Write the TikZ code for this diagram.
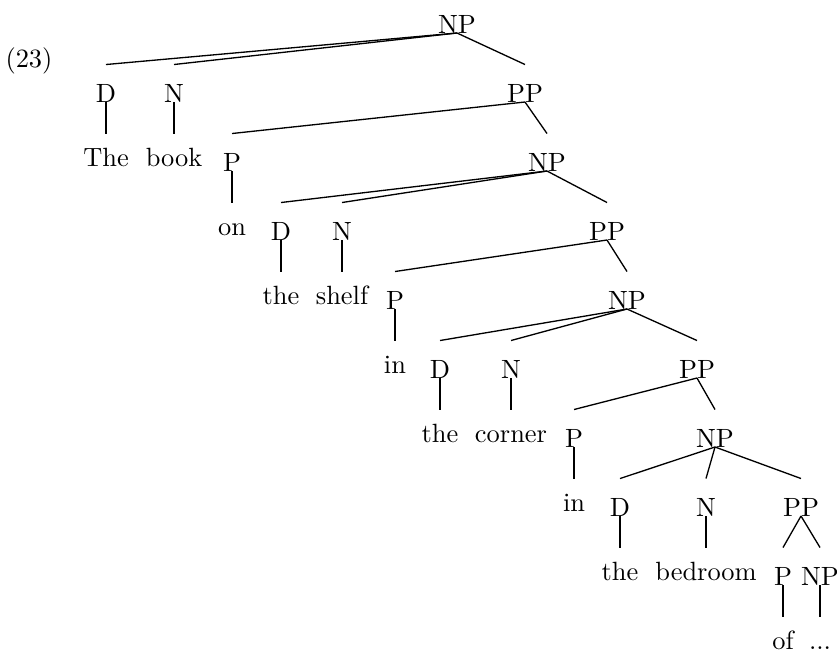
\documentclass[tikz,border=0pt]{standalone}
\usepackage{amsfonts}
\usepackage{amssymb}
\usepackage{tikz}

\tikzset{
  cat/.style={anchor=base, inner xsep=0pt, inner ysep=7pt, text height=7pt, text depth=0pt},
  word/.style={anchor=base, inner xsep=0pt, inner ysep=5.1pt, text height=7pt, text depth=0pt},
  branch/.style={line width=0.5pt},
  stem/.style={line width=1.1pt},
}

\begin{document}
\begin{tikzpicture}[x=0.3788pt, y=-0.3788pt]
        \useasboundingbox (0,0) rectangle (837,651);

        \node[anchor=base] (exnum) at (29,67) {(23)};

        \node[cat] (np0) at (457,33) {NP};

        \node[cat] (d1) at (106,102) {D};
        \node[cat] (n1) at (174,102) {N};
        \node[cat] (pp1) at (525,102) {PP};
        \node[word] (the1) at (106,166) {The};
        \node[word] (book) at (174,166) {book};

        \node[cat] (p2) at (232,171) {P};
        \node[cat] (np2) at (547,171) {NP};
        \node[word] (on) at (232,235) {on};

        \node[cat] (d3) at (281,240) {D};
        \node[cat] (n3) at (342,240) {N};
        \node[cat] (pp3) at (607,240) {PP};
        \node[word] (the2) at (281,304) {the};
        \node[word] (shelf) at (342,304) {shelf};

        \node[cat] (p4) at (395,309) {P};
        \node[cat] (np4) at (627,309) {NP};
        \node[word] (in1) at (395,373) {in};

        \node[cat] (d5) at (440,378) {D};
        \node[cat] (n5) at (511,378) {N};
        \node[cat] (pp5) at (697,378) {PP};
        \node[word] (the3) at (440,442) {the};
        \node[word] (corner) at (511,442) {corner};

        \node[cat] (p6) at (574,447) {P};
        \node[cat] (np6) at (715,447) {NP};
        \node[word] (in2) at (574,511) {in};

        \node[cat] (d7) at (620,516) {D};
        \node[cat] (n7) at (706,516) {N};
        \node[cat] (pp7) at (801,516) {PP};
        \node[word] (the4) at (620,580) {the};
        \node[word] (bedroom) at (706,580) {bedroom};

        \node[cat] (p8) at (783,585) {P};
        \node[cat] (np8) at (820,585) {NP};
        \node[word] (of) at (783,649) {of};
        \node[word] (dots) at (820,649) {...};

        \draw[branch] (np0.base) -- (d1.north);
        \draw[branch] (np0.base) -- (n1.north);
        \draw[branch] (np0.base) -- (pp1.north);
        \draw[stem] (d1.base) -- (the1.north);
        \draw[stem] (n1.base) -- (book.north);

        \draw[branch] (pp1.base) -- (p2.north);
        \draw[branch] (pp1.base) -- (np2.north);
        \draw[stem] (p2.base) -- (on.north);

        \draw[branch] (np2.base) -- (d3.north);
        \draw[branch] (np2.base) -- (n3.north);
        \draw[branch] (np2.base) -- (pp3.north);
        \draw[stem] (d3.base) -- (the2.north);
        \draw[stem] (n3.base) -- (shelf.north);

        \draw[branch] (pp3.base) -- (p4.north);
        \draw[branch] (pp3.base) -- (np4.north);
        \draw[stem] (p4.base) -- (in1.north);

        \draw[branch] (np4.base) -- (d5.north);
        \draw[branch] (np4.base) -- (n5.north);
        \draw[branch] (np4.base) -- (pp5.north);
        \draw[stem] (d5.base) -- (the3.north);
        \draw[stem] (n5.base) -- (corner.north);

        \draw[branch] (pp5.base) -- (p6.north);
        \draw[branch] (pp5.base) -- (np6.north);
        \draw[stem] (p6.base) -- (in2.north);

        \draw[branch] (np6.base) -- (d7.north);
        \draw[branch] (np6.base) -- (n7.north);
        \draw[branch] (np6.base) -- (pp7.north);
        \draw[stem] (d7.base) -- (the4.north);
        \draw[stem] (n7.base) -- (bedroom.north);

        \draw[branch] (pp7.base) -- (p8.north);
        \draw[branch] (pp7.base) -- (np8.north);
        \draw[stem] (p8.base) -- (of.north);
        \draw[stem] (np8.base) -- (dots.north);
    \end{tikzpicture}
\end{document}
